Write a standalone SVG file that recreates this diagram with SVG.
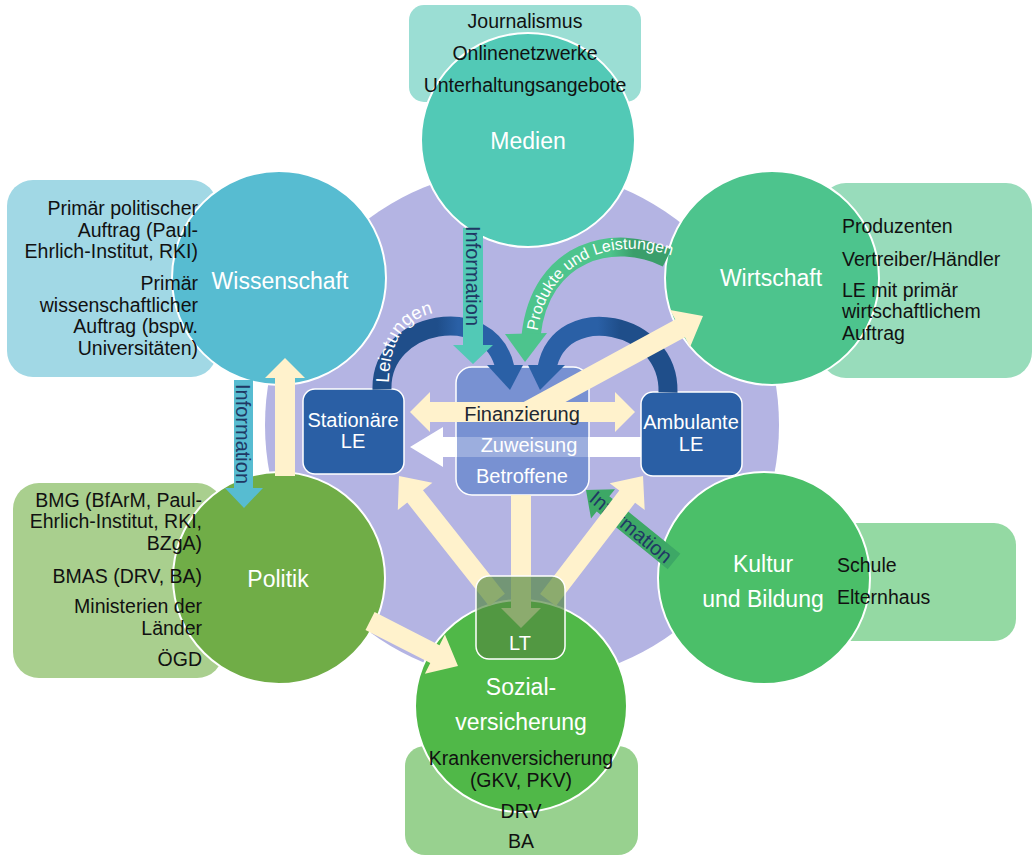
<svg xmlns="http://www.w3.org/2000/svg" width="1033" height="856" viewBox="0 0 1033 856">
<style>
text{font-family:"Liberation Sans",Arial,sans-serif}
.sat{font-size:19.5px;fill:#111}
.r{text-anchor:end}
.m{text-anchor:middle}
.lbl{font-size:23px;fill:#fff;text-anchor:middle}
.circ{stroke:#fff;stroke-width:2}
.le{fill:#2A5FA5;stroke:#fff;stroke-width:1.5}
.lt{font-size:20px;fill:#fff;text-anchor:middle}
.cream{fill:#FFF2CC}
.info{font-size:20px;fill:#1F3864;text-anchor:middle;dominant-baseline:central}
.arc{fill:none;stroke-width:19}
</style>
<defs>
<linearGradient id="gL" gradientUnits="userSpaceOnUse" x1="382" y1="0" x2="505" y2="0"><stop offset="0.45" stop-color="#1F4E8A"/><stop offset="0.62" stop-color="#2A60A6"/></linearGradient>
<linearGradient id="gA" gradientUnits="userSpaceOnUse" x1="668" y1="0" x2="547" y2="0"><stop offset="0.4" stop-color="#1F4E8A"/><stop offset="0.58" stop-color="#2A60A6"/></linearGradient>
<linearGradient id="gP" gradientUnits="userSpaceOnUse" x1="668" y1="0" x2="531" y2="0"><stop offset="0.25" stop-color="#3A9E6B"/><stop offset="0.42" stop-color="#4DC48D"/></linearGradient>
<path id="tpL" d="M 389 398 C 387 340, 402 310, 462 310"/>
<path id="tpP" d="M 537 335 C 545 265, 605 235, 670 255"/>
</defs>

<g id="background"><circle cx="522" cy="425" r="257" fill="#B4B4E3"/></g>

<g id="medien">
<rect x="409" y="5" width="232" height="97" rx="15" fill="#9BDED4"/>
<circle class="circ" cx="528" cy="140" r="107" fill="#52C9B6"/>
<text class="lbl" x="528" y="149">Medien</text>
<text class="sat m" x="525" y="28">Journalismus</text>
<text class="sat m" x="525" y="60">Onlinenetzwerke</text>
<text class="sat m" x="525" y="92">Unterhaltungsangebote</text>
</g>

<g id="wissenschaft">
<rect x="7" y="180" width="210" height="197" rx="26" fill="#A1D8E5"/>
<circle class="circ" cx="279" cy="278" r="107" fill="#57BCD1"/>
<text class="lbl" x="280" y="289">Wissenschaft</text>
<text class="sat r" x="198" y="215">Primär politischer</text>
<text class="sat r" x="198" y="237">Auftrag (Paul-</text>
<text class="sat r" x="198" y="258">Ehrlich-Institut, RKI)</text>
<text class="sat r" x="198" y="290">Primär</text>
<text class="sat r" x="198" y="312">wissenschaftlicher</text>
<text class="sat r" x="198" y="333">Auftrag (bspw.</text>
<text class="sat r" x="198" y="355">Universitäten)</text>
</g>

<g id="wirtschaft">
<rect x="820" y="183" width="212" height="195" rx="26" fill="#98DCBB"/>
<circle class="circ" cx="772" cy="278" r="107" fill="#4DC48D"/>
<text class="lbl" x="771" y="286">Wirtschaft</text>
<text class="sat" x="842" y="233">Produzenten</text>
<text class="sat" x="842" y="266">Vertreiber/Händler</text>
<text class="sat" x="842" y="297">LE mit primär</text>
<text class="sat" x="842" y="318">wirtschaftlichem</text>
<text class="sat" x="842" y="340">Auftrag</text>
</g>

<g id="politik">
<rect x="13" y="483" width="210" height="195" rx="26" fill="#A9CF8E"/>
<circle class="circ" cx="279" cy="578" r="106" fill="#70AD47"/>
<text class="lbl" x="278" y="587">Politik</text>
<text class="sat r" x="202" y="507">BMG (BfArM, Paul-</text>
<text class="sat r" x="202" y="528">Ehrlich-Institut, RKI,</text>
<text class="sat r" x="202" y="550">BZgA)</text>
<text class="sat r" x="202" y="583">BMAS (DRV, BA)</text>
<text class="sat r" x="202" y="613">Ministerien der</text>
<text class="sat r" x="202" y="635">Länder</text>
<text class="sat r" x="202" y="666">ÖGD</text>
</g>

<g id="kultur">
<rect x="790" y="523" width="226" height="118" rx="22" fill="#94D9A3"/>
<circle class="circ" cx="764" cy="578" r="106" fill="#4BBF69"/>
<text class="lbl" x="763" y="572">Kultur</text>
<text class="lbl" x="763" y="607">und Bildung</text>
<text class="sat" x="837" y="572">Schule</text>
<text class="sat" x="837" y="604">Elternhaus</text>
</g>

<g id="sozialversicherung">
<rect x="405" y="746" width="233" height="109" rx="20" fill="#98D18F"/>
<circle class="circ" cx="521" cy="706" r="106" fill="#50B848"/>
<text class="lbl" x="521" y="695">Sozial-</text>
<text class="lbl" x="521" y="730">versicherung</text>
<text class="sat m" x="521" y="765">Krankenversicherung</text>
<text class="sat m" x="521" y="787">(GKV, PKV)</text>
<text class="sat m" x="521" y="818">DRV</text>
<text class="sat m" x="521" y="848">BA</text>
</g>

<g id="betroffene">
<rect x="456" y="367" width="133" height="128" rx="16" fill="#7891D2" stroke="#fff" stroke-width="1.5"/>
<text class="lt" x="522" y="483">Betroffene</text>
</g>

<g id="stationaere-le">
<rect class="le" x="303" y="389" width="101" height="85" rx="12"/>
<text class="lt" x="353" y="427">Stationäre</text>
<text class="lt" x="353" y="448">LE</text>
</g>

<g id="ambulante-le">
<rect class="le" x="641" y="392" width="101" height="84" rx="12"/>
<text class="lt" x="691" y="429">Ambulante</text>
<text class="lt" x="691" y="451">LE</text>
</g>

<g id="connectors">
<path class="arc" stroke="url(#gL)" d="M 382 389.5 C 380 320, 490 300, 505 368"/>
<polygon fill="#2A60A6" points="487,365 523,365 510,390"/>
<path class="arc" stroke="url(#gA)" d="M 668 392.5 C 670 320, 560 300, 547 368"/>
<polygon fill="#2A60A6" points="528,365 565,365 540,390"/>
<path class="arc" stroke="url(#gP)" d="M 667 258 C 615 232, 540 250, 531 336"/>
<polygon fill="#4DC48D" points="505,334 547,333 525,362"/>
<text font-size="18.5" fill="#fff"><textPath href="#tpL" startOffset="15">Leistungen</textPath></text>
<text font-size="16" fill="#fff"><textPath href="#tpP" startOffset="4">Produkte und Leistungen</textPath></text>

<polygon fill="#52C9B6" points="463,228 483,228 483,345 493,345 473,364 453,345 463,345"/>
<text class="info" transform="translate(473,276) rotate(90)">Information</text>
<polygon fill="#57BCD1" points="234,380 253,380 253,488 263,488 244,508 225,488 234,488"/>
<text class="info" transform="translate(243,434) rotate(90)">Information</text>
<polygon fill="#3DA866" points="680.3,553.8 609.3,496.2 615,489.2 586,490 591,518.6 596.7,511.6 667.7,569.2"/>
<text class="info" transform="translate(631,527) rotate(39.5)">Information</text>

<polygon fill="#fff" points="410,447 443,427 443,437 457,437 457,457 443,457 443,467"/>
<rect x="588" y="437" width="53" height="20" fill="#fff"/>
<rect x="457" y="437" width="131" height="20" fill="#fff" fill-opacity="0.27"/>
<text class="lt" x="529" y="452">Zuweisung</text>

<polygon class="cream" points="410,412 430,392 430,402 615,402 615,392 635,412 615,432 615,422 430,422 430,432"/>
<polygon class="cream" points="523.2,402.2 675.3,319.6 670.1,309.9 703,316 690.1,346.9 684.9,337.2 532.8,419.8"/>
<text x="522" y="421" font-size="20" fill="#222833" text-anchor="middle">Finanzierung</text>
<polygon class="cream" points="504.9,593.8 423,490.2 432.4,482.8 399,476 397.8,510 407.3,502.6 489.2,606.2"/>
<polygon class="cream" points="540.1,593.9 619.3,490.5 609.7,483.2 643,476 644.7,510 635.1,502.7 555.9,606.1"/>
<polygon class="cream" points="511,495 531,495 531,608 541,608 521,628 501,608 511,608"/>
<polygon class="cream" points="374.6,612.1 439.5,645.3 444.9,634.6 458,666 424.9,673.8 430.3,663.1 365.5,629.9"/>
<polygon class="cream" points="275,476 275,378 265,378 285,358 305,378 295,378 295,476"/>
</g>

<g id="lt">
<rect x="476" y="576" width="89" height="83" rx="13" fill="#538740" fill-opacity="0.67" stroke="#fff" stroke-width="1.5"/>
<text class="lt" x="520" y="650">LT</text>
</g>
</svg>
